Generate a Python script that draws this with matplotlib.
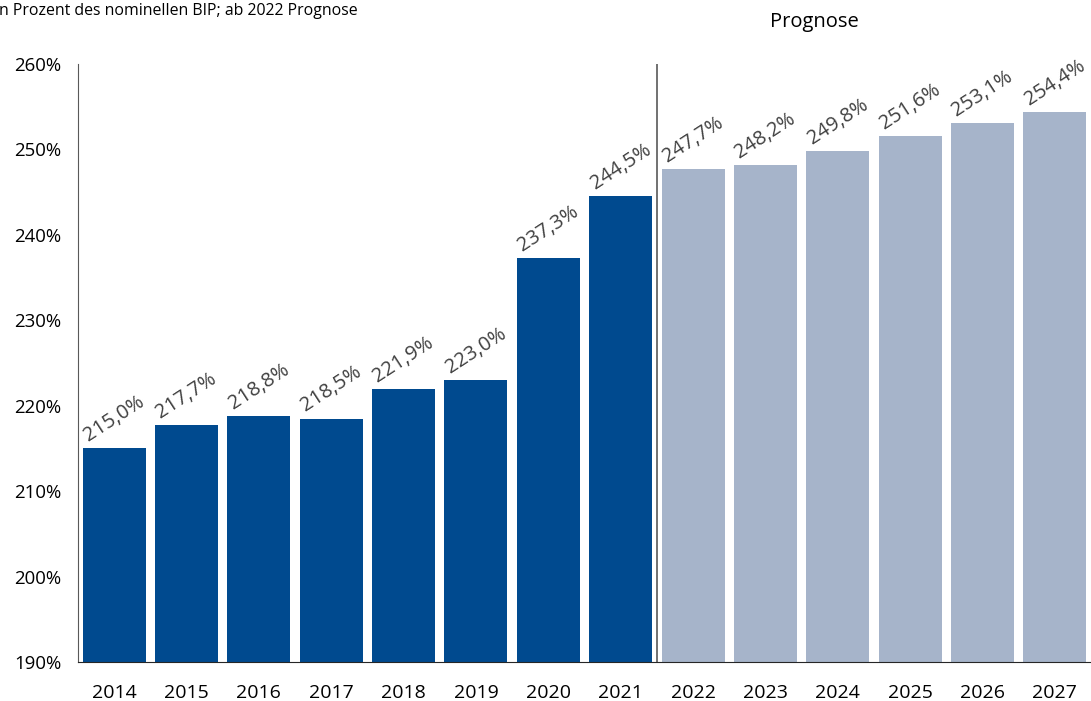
# Staatsverschuldung - Anteil am BIP
import numpy as np
import matplotlib
matplotlib.use('Agg')
import matplotlib.pyplot as plt

plt.rcParams['font.family'] = ['Open Sans', 'DejaVu Sans']

# Daten
years = ['2014', '2015', '2016', '2017', '2018', '2019', '2020', '2021',
         '2022', '2023', '2024', '2025', '2026', '2027']
values = [215.0, 217.7, 218.8, 218.5, 221.9, 223.0, 237.3, 244.5,
          247.7, 248.2, 249.8, 251.6, 253.1, 254.4]
n_actual = 8  # ab 2022 Prognose

dark = '#004A8F'
light = '#A6B4CA'
txt = '#404040'

fig = plt.figure(figsize=(10.91, 7.01), dpi=100)
ax = fig.add_axes([0.0715, 0.0556, 0.9285, 0.8531])

x = np.arange(len(years))
colors = [dark] * n_actual + [light] * (len(years) - n_actual)
ax.bar(x, [v - 190 for v in values], bottom=190, width=0.87, color=colors)

for xi, v in zip(x, values):
    label = ('%.1f%%' % v).replace('.', ',')
    ax.text(xi, v + 0.3, label, rotation=33, ha='center', va='bottom',
            fontsize=14.5, color=txt)

ax.axvline(n_actual - 0.5, color='#595959', lw=1.2)

ax.set_xlim(-0.5, len(years) - 0.5)
ax.set_ylim(190, 260)
ax.set_yticks(np.arange(190, 261, 10))
ax.set_yticklabels(['%d%%' % t for t in range(190, 261, 10)])
ax.set_xticks(x)
ax.set_xticklabels(years)
ax.tick_params(length=0, labelsize=13.4, colors='black')
ax.tick_params(axis='x', pad=16, labelsize=14)
ax.tick_params(axis='y', pad=12)

for s in ['top', 'right']:
    ax.spines[s].set_visible(False)
ax.spines['left'].set_color('#595959')
ax.spines['bottom'].set_color('#262626')

fig.text(-0.005, 0.985, 'in Prozent des nominellen BIP; ab 2022 Prognose',
         fontsize=11.4, ha='left', va='center')
fig.text(0.746, 0.968, 'Prognose', fontsize=14.5, ha='center', va='center')

plt.savefig('out.png', dpi=100)
